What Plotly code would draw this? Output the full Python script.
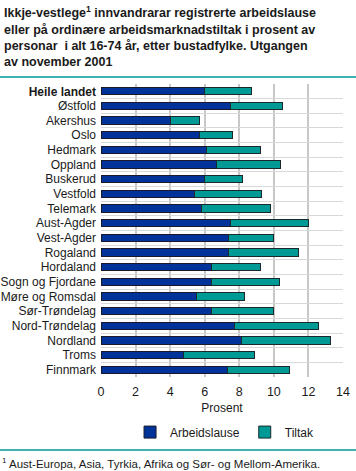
import plotly.graph_objects as go

categories = ["Heile landet", "Østfold", "Akershus", "Oslo", "Hedmark", "Oppland",
              "Buskerud", "Vestfold", "Telemark", "Aust-Agder", "Vest-Agder",
              "Rogaland", "Hordaland", "Sogn og Fjordane", "Møre og Romsdal",
              "Sør-Trøndelag", "Nord-Trøndelag", "Nordland", "Troms", "Finnmark"]
arbeidslause = [6.0, 7.5, 4.0, 5.7, 6.1, 6.7, 6.0, 5.4, 5.8, 7.5, 7.4, 7.4, 6.4,
                6.4, 5.5, 6.4, 7.7, 8.1, 4.8, 7.3]
totalt = [8.7, 10.5, 5.7, 7.6, 9.2, 10.4, 8.2, 9.3, 9.8, 12.0, 10.0, 11.4, 9.2,
          10.3, 8.3, 10.0, 12.6, 13.3, 8.9, 10.9]
tiltak = [round(t - a, 2) for t, a in zip(totalt, arbeidslause)]
x_ticks = [0, 2, 4, 6, 8, 10, 12, 14]

labels = ["<b>Heile landet</b>" if c == "Heile landet" else c for c in categories]

BLUE = "#003399"
TEAL = "#009a96"
FONT = "Liberation Sans"

fig = go.Figure()
fig.add_trace(go.Bar(y=labels, x=arbeidslause, orientation="h", name="Arbeidslause",
                     marker=dict(color=BLUE, line=dict(color="#1a1a2a", width=1))))
fig.add_trace(go.Bar(y=labels, x=tiltak, orientation="h", name="Tiltak",
                     marker=dict(color=TEAL, line=dict(color="#1a2a2a", width=1))))

fig.update_layout(
    barmode="stack",
    bargap=0.5,
    width=356, height=471,
    margin=dict(l=101, r=13, t=84, b=94),
    paper_bgcolor="white", plot_bgcolor="white",
    font=dict(family=FONT, size=12, color="#1a1a1a"),
    showlegend=True,
    legend=dict(orientation="h", x=0.12, y=-0.188, xanchor="left", yanchor="middle",
                font=dict(size=12), itemwidth=30, traceorder="normal",
                tracegroupgap=0),
    xaxis=dict(range=[0, 14], tickvals=x_ticks, showgrid=True, gridcolor="#c8c8c8",
               gridwidth=2, zeroline=False, showline=False, automargin=False,
               title=dict(text="Prosent", standoff=6, font=dict(size=12)),
               tickfont=dict(size=12.5), ticks="", ticklabelstandoff=5),
    yaxis=dict(autorange="reversed", type="category", tickson="boundaries",
               showgrid=True, gridcolor="#d8d8d8", gridwidth=1, ticks="",
               showline=False, tickfont=dict(size=12), ticklabelstandoff=4,
               automargin=False),
)

fig.add_annotation(
    xref="paper", yref="paper", x=-99/242, y=1 + 82/293, xanchor="left", yanchor="top",
    align="left", showarrow=False,
    text=("<b>Ikkje-vestlege<sup>1</sup> innvandrarar registrerte arbeidslause<br>"
          "eller på ordinære arbeidsmarknadstiltak i prosent av<br>"
          "personar  i alt 16-74 år, etter bustadfylke. Utgangen<br>"
          "av november 2001</b>"),
    font=dict(size=12.5, family=FONT, color="#1a1a1a"),
)
fig.add_annotation(
    xref="paper", yref="paper", x=-101/242, y=-(454 - 377) / 293, xanchor="left",
    yanchor="top", align="left", showarrow=False,
    text="<sup>1</sup> Aust-Europa, Asia, Tyrkia, Afrika og Sør- og Mellom-Amerika.",
    font=dict(size=11.5, family=FONT, color="#1a1a1a"),
)
for ypix in (77, 450):
    fig.add_shape(type="line", xref="paper", yref="paper",
                  x0=-101/242, x1=(356 - 101) / 242,
                  y0=(377 - ypix) / 293, y1=(377 - ypix) / 293,
                  line=dict(color=TEAL, width=1.5))

fig.write_html("out.html", config={"displayModeBar": False})

# remove the default 8px page margin so the figure fills the window exactly
with open("out.html", encoding="utf-8") as f:
    html = f.read()
html = html.replace("<head>", "<head><style>html,body{margin:0;padding:0;overflow:hidden}</style>", 1)
with open("out.html", "w", encoding="utf-8") as f:
    f.write(html)
